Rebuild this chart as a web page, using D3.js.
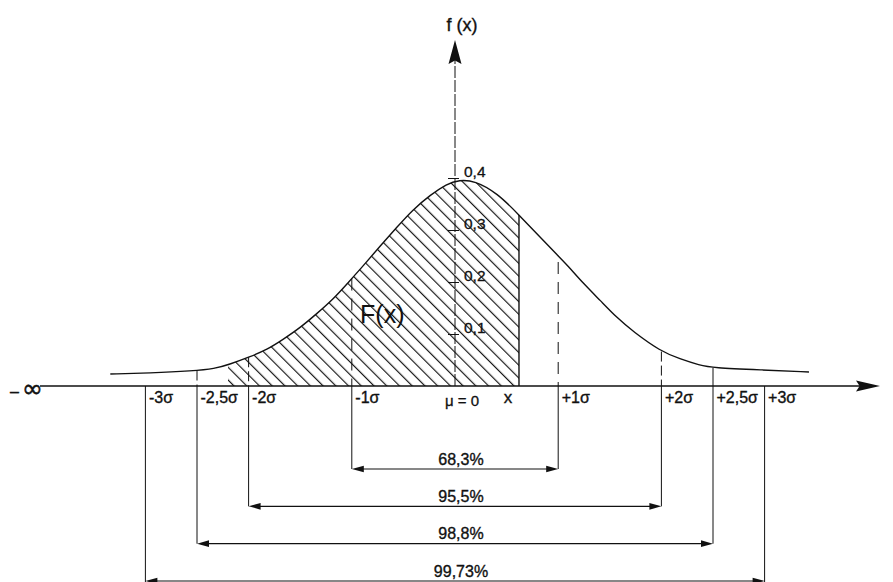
<!DOCTYPE html>
<html>
<head>
<meta charset="utf-8">
<script src="https://cdn.jsdelivr.net/npm/d3@7"></script>
<style>
  html, body { margin: 0; padding: 0; background: #fff; }
  svg { display: block; font-family: "Liberation Sans", Arial, sans-serif; }
</style>
</head>
<body>
<svg id="chart" width="893" height="582"></svg>
<script>
// Normal distribution density f(x), cumulative area F(x) and the σ intervals

// σ marks on the horizontal axis
const sigmaMarks  = [-3, -2.5, -2, -1, 1, 2, 2.5, 3];
const sigmaLabels = ["-3σ", "-2,5σ", "-2σ", "-1σ", "+1σ", "+2σ", "+2,5σ", "+3σ"];

// density ticks on the vertical axis
const densityTicks      = [0.1, 0.2, 0.3, 0.4];
const densityTickLabels = ["0,1", "0,2", "0,3", "0,4"];

// the drawn bell curve (position in σ, density)
const curveSigma   = [-3.34, -2.96, -2.54, -2.33, -2.18, -1.99, -1.82, -1.67, -1.50, -1.34, -1.18, -1.03,
                      -0.89, -0.73, -0.56, -0.41, -0.24, -0.08, 0.04, 0.19, 0.41, 0.62, 0.82, 1.00,
                      1.09, 1.24, 1.41, 1.57, 1.73, 1.99, 2.18, 2.37, 2.50, 2.96, 3.43];
const curveDensity = [0.023, 0.025, 0.029, 0.033, 0.042, 0.056, 0.070, 0.089, 0.112, 0.139, 0.167, 0.200,
                      0.231, 0.268, 0.306, 0.339, 0.367, 0.389, 0.396, 0.395, 0.371, 0.329, 0.287, 0.250,
                      0.232, 0.198, 0.164, 0.131, 0.104, 0.067, 0.052, 0.040, 0.035, 0.031, 0.027];

// marks that carry a guide line up to the curve
const upperGuides = [-2.5, -2, -1, 1, 2, 2.5];

// symmetric intervals ±kσ and their probabilities
const intervalHalfWidths = [1, 2, 2.5, 3];
const intervalLabels     = ["68,3%", "95,5%", "98,8%", "99,73%"];

// the shaded area F(x) runs up to x
const xValue    = 0.62;
const hatchFrom = -2.2;

// ---------------------------------------------------------------------------
const svg = d3.select("#chart");
const ink = "#111";

const x = d3.scaleLinear().domain([-3, 3]).range([145.4, 764.6]);
const y = d3.scaleLinear().domain([0, 0.4]).range([386, 178]);
const levelY = d3.scalePoint().domain(intervalLabels).range([469, 581]);

const curvePts = curveSigma.map((s, i) => [s, curveDensity[i]]);
const bis = d3.bisector(d => d[0]).left;
function densityAt(s) {
  const i = Math.max(1, Math.min(curvePts.length - 1, bis(curvePts, s)));
  const a = curvePts[i - 1], b = curvePts[i];
  const t = (s - a[0]) / (b[0] - a[0]);
  return a[1] + t * (b[1] - a[1]);
}

// filled dart / triangle arrowhead; (dx,dy) is the pointing direction
function arrowHead(g, tx, ty, dx, dy, len, half, notch) {
  const px = -dy, py = dx;
  const bx = tx - dx * len, by = ty - dy * len;
  const nx = tx - dx * len * notch, ny = ty - dy * len * notch;
  const pts = [[tx, ty], [bx + px * half, by + py * half], [nx, ny], [bx - px * half, by - py * half]];
  g.append("path").attr("d", "M" + pts.map(p => p.join(",")).join("L") + "Z").attr("fill", ink);
}

// hatch pattern
const defs = svg.append("defs");
defs.append("pattern")
  .attr("id", "hatch").attr("patternUnits", "userSpaceOnUse")
  .attr("width", 9).attr("height", 9)
  .attr("patternTransform", "rotate(-45)")
  .append("line").attr("x1", 0.6).attr("y1", -1).attr("x2", 0.6).attr("y2", 10)
  .attr("stroke", ink).attr("stroke-width", 1.15);
defs.append("clipPath").attr("id", "fclip")
  .append("rect")
  .attr("x", x(hatchFrom)).attr("y", 0)
  .attr("width", x(xValue) - x(hatchFrom)).attr("height", y(0));

const smooth = d3.curveBasis;

// shaded area F(x)
const area = d3.area().x(d => x(d[0])).y0(y(0)).y1(d => y(d[1])).curve(smooth);
svg.append("path").datum(curvePts).attr("d", area)
  .attr("fill", "url(#hatch)").attr("clip-path", "url(#fclip)");

// right edge of F(x)
svg.append("line")
  .attr("x1", x(xValue)).attr("x2", x(xValue))
  .attr("y1", y(densityAt(xValue))).attr("y2", y(0))
  .attr("stroke", ink).attr("stroke-width", 1.4);

// bell curve
const line = d3.line().x(d => x(d[0])).y(d => y(d[1])).curve(smooth);
svg.append("path").datum(curvePts).attr("d", line)
  .attr("fill", "none").attr("stroke", ink).attr("stroke-width", 1.4);

// guides from the curve down to the axis
svg.append("g").selectAll("line").data(upperGuides).join("line")
  .attr("x1", d => x(d)).attr("x2", d => x(d))
  .attr("y1", d => y(densityAt(d)) + (d === 1 ? 6 : 0)).attr("y2", y(0))
  .attr("stroke", ink).attr("stroke-width", 1)
  .attr("stroke-dasharray", d => d === 2.5 ? null : (Math.abs(d) === 1 ? "12,8" : "10,4"));

// guides below the axis down to each interval arrow
const lowerG = svg.append("g");
sigmaMarks.forEach(s => {
  const k = intervalHalfWidths.indexOf(Math.abs(s));
  lowerG.append("line")
    .attr("x1", x(s)).attr("x2", x(s))
    .attr("y1", y(0)).attr("y2", levelY(intervalLabels[k]) + (k === 3 ? 4 : 0))
    .attr("stroke", ink).attr("stroke-width", 1);
});

// interval arrows with labels
const brG = svg.append("g");
intervalHalfWidths.forEach((k, i) => {
  const ly = levelY(intervalLabels[i]);
  const x0 = x(-k), x1 = x(k);
  brG.append("line").attr("x1", x0 + 4).attr("x2", x1 - 4).attr("y1", ly).attr("y2", ly)
    .attr("stroke", ink).attr("stroke-width", 1.2);
  arrowHead(brG, x0, ly, -1, 0, 12, 3.3, 1);
  arrowHead(brG, x1, ly, 1, 0, 12, 3.3, 1);
  const t = brG.append("text")
    .attr("x", (x0 + x1) / 2 + 6).attr("y", ly - 4.5)
    .attr("text-anchor", "middle").attr("font-size", 16).attr("fill", ink)
    .attr("stroke", ink).attr("stroke-width", 0.35)
    .text(intervalLabels[i]);
  if (i === intervalLabels.length - 1) {
    const bb = t.node().getBBox();
    brG.insert("rect", "text").attr("x", bb.x - 4).attr("y", bb.y)
      .attr("width", bb.width + 8).attr("height", bb.height + 6).attr("fill", "#fff");
  }
});

// horizontal axis with arrow
svg.append("line").attr("x1", 40).attr("x2", 862).attr("y1", y(0)).attr("y2", y(0))
  .attr("stroke", ink).attr("stroke-width", 1.5);
arrowHead(svg, 880, y(0), 1, 0, 24, 5.5, 0.85);
svg.append("text").attr("x", 10).attr("y", 397).attr("font-size", 16).attr("fill", ink)
  .attr("stroke", ink).attr("stroke-width", 0.4).text("–");
svg.append("text").attr("x", 22).attr("y", 397).attr("font-size", 25)
  .attr("font-family", "DejaVu Sans").attr("fill", ink)
  .attr("stroke", ink).attr("stroke-width", 0.5).text("∞");

// σ labels
const xAxis = d3.axisBottom(x).tickValues(sigmaMarks).tickSize(0)
  .tickFormat((d, i) => sigmaLabels[i]);
const gx = svg.append("g").attr("transform", `translate(0,${y(0)})`).call(xAxis);
gx.select(".domain").remove();
gx.attr("font-family", null).attr("font-size", 16);
gx.selectAll("text").attr("text-anchor", "start").attr("x", 3).attr("y", 17).attr("dy", null)
  .attr("fill", ink).attr("stroke", ink).attr("stroke-width", 0.35);

// vertical axis with arrow
svg.append("line").attr("x1", x(0)).attr("x2", x(0)).attr("y1", y(0)).attr("y2", 60)
  .attr("stroke", ink).attr("stroke-width", 1).attr("stroke-dasharray", "12,2");
arrowHead(svg, x(0), 40, 0, -1, 24, 6.5, 0.85);
svg.append("text").attr("x", x(0) + 7).attr("y", 31).attr("text-anchor", "middle")
  .attr("font-size", 18).attr("fill", ink).attr("stroke", ink).attr("stroke-width", 0.35)
  .text("f (x)");

// density ticks
const yAxis = d3.axisRight(y).tickValues(densityTicks).tickSize(4)
  .tickFormat((d, i) => densityTickLabels[i]);
const gy = svg.append("g").attr("transform", `translate(${x(0)},0)`).call(yAxis);
gy.select(".domain").remove();
gy.attr("font-family", null).attr("font-size", 15.5);
gy.selectAll("line").attr("x1", -7).attr("stroke", ink);
gy.selectAll("text").attr("x", 9).attr("y", -2).attr("dy", null)
  .attr("fill", ink).attr("stroke", ink).attr("stroke-width", 0.3);

// μ, x and F(x)
svg.append("text").attr("x", x(0) + 7).attr("y", 406).attr("text-anchor", "middle")
  .attr("font-size", 15).attr("fill", ink).attr("stroke", ink).attr("stroke-width", 0.3)
  .text("μ = 0");
svg.append("text").attr("x", x(xValue) - 11).attr("y", 403).attr("text-anchor", "middle")
  .attr("font-size", 17).attr("fill", ink).attr("stroke", ink).attr("stroke-width", 0.35)
  .text("x");
svg.append("text").attr("x", x(-0.92)).attr("y", 323).attr("font-size", 25)
  .attr("fill", ink).text("F(x)");
</script>
</body>
</html>
